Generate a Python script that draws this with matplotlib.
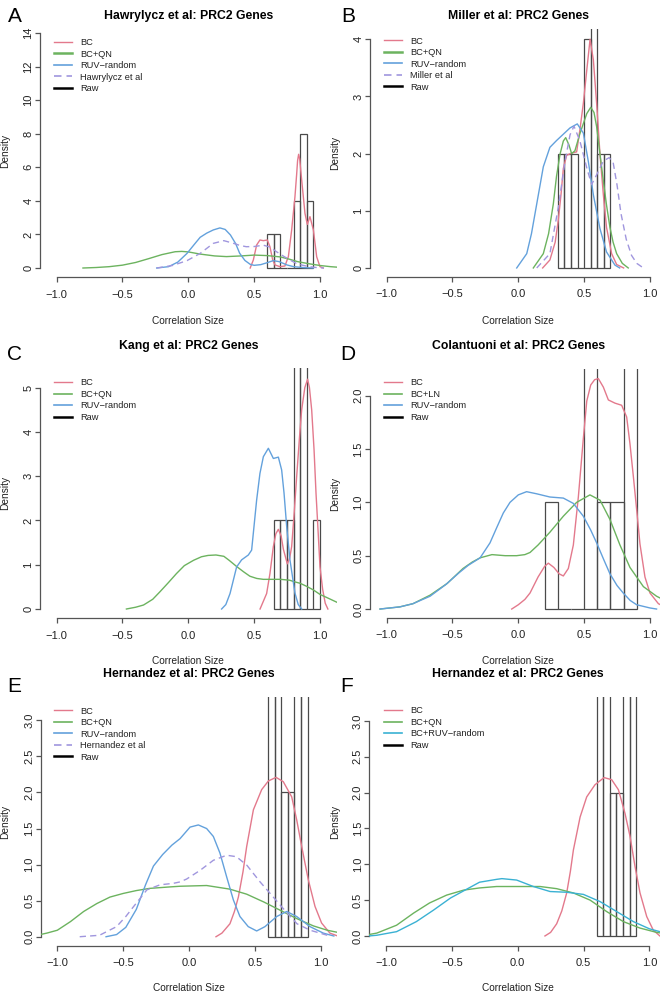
import matplotlib
matplotlib.use("Agg")
import matplotlib.pyplot as plt
from matplotlib.lines import Line2D

plt.rcParams['font.family'] = ['Liberation Sans', 'DejaVu Sans']

# ---------------- data ----------------
XTICKS = [-1.0, -0.5, 0.0, 0.5, 1.0]
XTICK_LABELS = ["\u22121.0", "\u22120.5", "0.0", "0.5", "1.0"]

# Panel A  (Hawrylycz)
A_title = "Hawrylycz et al: PRC2 Genes"
A_labels = ["BC", "BC+QN", "RUV\u2212random", "Hawrylycz et al", "Raw"]
A_yticks = [0, 2, 4, 6, 8, 10, 12, 14]
A_raw_edges = [0.60, 0.65, 0.70, 0.75, 0.80, 0.85, 0.90, 0.95]
A_raw_dens = [2, 2, 0, 0, 4, 8, 4]
A_bc_x = [0.47, 0.494, 0.519, 0.544, 0.57, 0.60, 0.62, 0.641, 0.659, 0.696, 0.734, 0.76, 0.785, 0.81,
          0.823, 0.83, 0.838, 0.846, 0.861, 0.886, 0.904, 0.924, 0.95, 0.975, 1.0, 1.025]
A_bc_y = [0.0, 0.48, 1.37, 1.67, 1.63, 1.67, 1.27, 0.48, 0.18, 0.08, 0.12, 0.68, 2.27, 4.25,
          5.6, 6.4, 6.78, 6.5, 5.25, 3.26, 2.6, 3.06, 2.27, 0.67, 0.08, 0.0]
A_qn_x = [-0.80, -0.70, -0.60, -0.50, -0.40, -0.30, -0.20, -0.10, -0.05, 0.00, 0.09, 0.20, 0.29, 0.40,
          0.50, 0.60, 0.70, 0.77, 0.83, 0.92, 1.00, 1.08, 1.13]
A_qn_y = [0.0, 0.03, 0.08, 0.17, 0.33, 0.56, 0.80, 0.97, 0.99, 0.96, 0.83, 0.72, 0.68, 0.72,
          0.77, 0.74, 0.66, 0.52, 0.38, 0.25, 0.15, 0.08, 0.05]
A_ruv_x = [-0.24, -0.15, -0.08, -0.01, 0.05, 0.09, 0.14, 0.19, 0.24, 0.28, 0.32, 0.36, 0.39, 0.43,
           0.47, 0.50, 0.55, 0.60, 0.645, 0.69, 0.72, 0.75, 0.80, 0.88, 0.95]
A_ruv_y = [0.0, 0.08, 0.35, 0.87, 1.45, 1.83, 2.08, 2.27, 2.39, 2.30, 1.97, 1.45, 0.88, 0.45,
           0.22, 0.16, 0.20, 0.32, 0.44, 0.38, 0.28, 0.18, 0.08, 0.02, 0.0]
A_pub_x = [-0.24, -0.12, -0.01, 0.09, 0.19, 0.27, 0.34, 0.39, 0.44, 0.50, 0.57, 0.62, 0.67, 0.72,
           0.75, 0.79, 0.82, 0.87, 0.92, 0.97, 1.03]
A_pub_y = [0.0, 0.15, 0.44, 0.87, 1.47, 1.63, 1.48, 1.35, 1.27, 1.28, 1.36, 1.25, 0.97, 0.72,
           0.58, 0.40, 0.28, 0.16, 0.08, 0.03, 0.0]

# Panel B  (Miller)
B_title = "Miller et al: PRC2 Genes"
B_labels = ["BC", "BC+QN", "RUV\u2212random", "Miller et al", "Raw"]
B_yticks = [0, 1, 2, 3, 4]
B_raw_edges = [0.30, 0.35, 0.40, 0.45, 0.50, 0.55, 0.60, 0.65, 0.70]
B_raw_dens = [2, 2, 2, 0, 4, 6, 2, 2]
B_bc_x = [0.185, 0.24, 0.28, 0.304, 0.325, 0.342, 0.367, 0.405, 0.443, 0.468, 0.494, 0.52, 0.545,
          0.57, 0.595, 0.62, 0.646, 0.67, 0.709, 0.747, 0.80]
B_bc_y = [0.0, 0.14, 0.45, 0.84, 1.30, 1.74, 1.97, 2.01, 2.03, 2.42, 2.88, 3.46, 4.0,
          3.64, 2.88, 2.0, 1.28, 0.71, 0.25, 0.06, 0.0]
B_qn_x = [0.114, 0.19, 0.23, 0.266, 0.29, 0.317, 0.342, 0.36, 0.385, 0.405, 0.43, 0.468, 0.52, 0.55,
          0.575, 0.595, 0.62, 0.646, 0.67, 0.696, 0.72, 0.747, 0.79, 0.835]
B_qn_y = [0.0, 0.25, 0.60, 1.12, 1.60, 1.99, 2.22, 2.28, 2.15, 2.0, 2.05, 2.35, 2.70, 2.81,
          2.72, 2.47, 2.0, 1.52, 1.10, 0.71, 0.45, 0.25, 0.08, 0.0]
B_ruv_x = [-0.012, 0.064, 0.10, 0.14, 0.19, 0.24, 0.291, 0.342, 0.393, 0.448, 0.494, 0.532, 0.57,
           0.62, 0.67, 0.734, 0.77]
B_ruv_y = [0.0, 0.25, 0.60, 1.12, 1.77, 2.11, 2.23, 2.34, 2.45, 2.52, 2.36, 1.86, 1.28,
           0.69, 0.28, 0.05, 0.0]
B_pub_x = [0.14, 0.24, 0.304, 0.355, 0.393, 0.423, 0.468, 0.52, 0.557, 0.595, 0.646, 0.69, 0.72,
           0.75, 0.78, 0.82, 0.86, 0.90, 0.95]
B_pub_y = [0.0, 0.25, 1.06, 1.87, 2.33, 2.48, 2.22, 1.75, 1.46, 1.63, 1.87, 1.93, 1.85,
           1.45, 0.95, 0.50, 0.22, 0.08, 0.0]

# Panel C  (Kang)
C_title = "Kang et al: PRC2 Genes"
C_labels = ["BC", "BC+QN", "RUV\u2212random", "Raw"]
C_yticks = [0, 1, 2, 3, 4, 5]
C_raw_edges = [0.65, 0.70, 0.75, 0.80, 0.85, 0.90, 0.95, 1.00]
C_raw_dens = [2, 2, 2, 6, 6, 0, 2]
C_bc_x = [0.545, 0.595, 0.62, 0.646, 0.665, 0.684, 0.705, 0.722, 0.752, 0.77, 0.785, 0.805, 0.823,
          0.845, 0.861, 0.885, 0.906, 0.92, 0.937, 0.955, 0.97, 0.985, 1.0, 1.02, 1.04, 1.06]
C_bc_y = [0.0, 0.35, 0.80, 1.41, 1.70, 1.80, 1.65, 1.35, 1.02, 1.15, 1.41, 2.2, 2.99,
          3.9, 4.5, 5.0, 5.19, 5.0, 4.5, 3.6, 2.61, 1.8, 0.96, 0.45, 0.13, 0.0]
C_qn_x = [-0.47, -0.40, -0.34, -0.27, -0.215, -0.15, -0.09, -0.03, 0.04, 0.10, 0.15, 0.21, 0.27,
          0.31, 0.367, 0.42, 0.468, 0.52, 0.57, 0.62, 0.70, 0.77, 0.80, 0.85, 0.90, 0.95, 1.00,
          1.08, 1.13]
C_qn_y = [0.0, 0.04, 0.09, 0.22, 0.39, 0.60, 0.80, 0.98, 1.10, 1.18, 1.21, 1.22, 1.19,
          1.10, 0.96, 0.84, 0.74, 0.69, 0.67, 0.67, 0.67, 0.65, 0.62, 0.58, 0.51, 0.43, 0.33,
          0.22, 0.15]
C_ruv_x = [0.253, 0.285, 0.317, 0.367, 0.405, 0.456, 0.481, 0.519, 0.544, 0.57, 0.608, 0.646,
           0.684, 0.709, 0.727, 0.747, 0.772, 0.81, 0.835, 0.861]
C_ruv_y = [0.0, 0.10, 0.35, 0.95, 1.11, 1.22, 1.33, 2.46, 3.06, 3.44, 3.63, 3.40,
           3.43, 3.14, 2.62, 1.87, 1.11, 0.36, 0.10, 0.0]

# Panel D  (Colantuoni)
D_title = "Colantuoni et al: PRC2 Genes"
D_labels = ["BC", "BC+LN", "RUV\u2212random", "Raw"]
D_yticks = [0.0, 0.5, 1.0, 1.5, 2.0]
D_raw_edges = [0.2, 0.3, 0.4, 0.5, 0.6, 0.7, 0.8, 0.9]
D_raw_dens = [1, 0, 0, 3, 1, 1, 4]
D_bc_x = [-0.05, 0.0, 0.05, 0.089, 0.15, 0.20, 0.228, 0.27, 0.31, 0.342, 0.38, 0.418, 0.456, 0.494,
          0.52, 0.55, 0.58, 0.608, 0.646, 0.684, 0.734, 0.785, 0.823, 0.848, 0.874, 0.899, 0.924,
          0.962, 1.0, 1.064, 1.13]
D_bc_y = [0.0, 0.04, 0.09, 0.15, 0.30, 0.40, 0.43, 0.39, 0.33, 0.31, 0.38, 0.60, 1.05, 1.60,
          1.95, 2.10, 2.15, 2.16, 2.08, 1.96, 1.93, 1.91, 1.80, 1.55, 1.24, 0.93, 0.61,
          0.30, 0.15, 0.05, 0.01]
D_ln_x = [-1.05, -0.9, -0.8, -0.67, -0.54, -0.42, -0.35, -0.29, -0.2, -0.1, -0.013, 0.05, 0.089,
          0.15, 0.24, 0.342, 0.443, 0.544, 0.621, 0.696, 0.772, 0.848, 0.95, 1.05, 1.13]
D_ln_y = [0.0, 0.02, 0.05, 0.13, 0.24, 0.38, 0.44, 0.48, 0.51, 0.50, 0.50, 0.51, 0.53,
          0.60, 0.72, 0.87, 1.00, 1.07, 1.02, 0.84, 0.60, 0.39, 0.21, 0.12, 0.07]
D_ruv_x = [-1.05, -0.9, -0.8, -0.67, -0.55, -0.45, -0.38, -0.29, -0.215, -0.165, -0.114, -0.063,
           0.0, 0.063, 0.14, 0.24, 0.342, 0.418, 0.494, 0.55, 0.595, 0.65, 0.696, 0.75, 0.797,
           0.85, 0.899, 1.0, 1.05]
D_ruv_y = [0.0, 0.02, 0.05, 0.12, 0.23, 0.34, 0.41, 0.48, 0.62, 0.76, 0.90, 1.00,
           1.07, 1.10, 1.08, 1.05, 1.04, 0.99, 0.87, 0.74, 0.62, 0.46, 0.33, 0.22, 0.15,
           0.08, 0.04, 0.01, 0.0]

# Panel E  (Hernandez)
E_title = "Hernandez et al: PRC2 Genes"
E_labels = ["BC", "BC+QN", "RUV\u2212random", "Hernandez et al", "Raw"]
E_yticks = [0.0, 0.5, 1.0, 1.5, 2.0, 2.5, 3.0]
E_raw_edges = [0.60, 0.65, 0.70, 0.75, 0.80, 0.85, 0.90]
E_raw_dens = [4, 4, 2, 2, 4, 4]
E_bc_x = [0.205, 0.25, 0.311, 0.345, 0.375, 0.41, 0.438, 0.489, 0.552, 0.603, 0.661, 0.716, 0.78,
          0.818, 0.856, 0.906, 0.957, 1.007, 1.07, 1.13]
E_bc_y = [0.0, 0.05, 0.18, 0.35, 0.55, 0.90, 1.25, 1.76, 2.04, 2.16, 2.21, 2.15, 1.94,
          1.62, 1.25, 0.79, 0.42, 0.19, 0.05, 0.01]
E_qn_x = [-1.13, -1.08, -1.0, -0.9, -0.8, -0.7, -0.6, -0.5, -0.4, -0.3, -0.15, -0.068, 0.134,
          0.31, 0.438, 0.57, 0.70, 0.82, 0.945, 1.05, 1.13]
E_qn_y = [0.03, 0.05, 0.09, 0.21, 0.35, 0.46, 0.55, 0.60, 0.64, 0.67, 0.69, 0.70, 0.71,
          0.66, 0.59, 0.48, 0.36, 0.25, 0.15, 0.09, 0.06]
E_ruv_x = [-0.63, -0.55, -0.48, -0.40, -0.33, -0.27, -0.20, -0.13, -0.068, 0.008, 0.071, 0.134,
           0.185, 0.235, 0.286, 0.337, 0.387, 0.45, 0.514, 0.577, 0.666, 0.742, 0.818, 0.919,
           1.02, 1.10]
E_ruv_y = [0.0, 0.03, 0.13, 0.38, 0.72, 0.98, 1.14, 1.27, 1.36, 1.52, 1.55, 1.50,
           1.39, 1.16, 0.83, 0.51, 0.28, 0.14, 0.08, 0.14, 0.28, 0.35, 0.28, 0.14,
           0.05, 0.01]
E_pub_x = [-0.83, -0.68, -0.55, -0.48, -0.42, -0.32, -0.22, -0.12, -0.068, -0.018, 0.084, 0.185,
           0.286, 0.36, 0.44, 0.54, 0.64, 0.716, 0.82, 0.92, 0.995, 1.05]
E_pub_y = [0.0, 0.02, 0.14, 0.28, 0.42, 0.65, 0.72, 0.74, 0.76, 0.80, 0.92, 1.06,
           1.13, 1.11, 0.99, 0.76, 0.55, 0.39, 0.18, 0.09, 0.05, 0.02]

# Panel F  (Hernandez, BC+RUV)
F_title = "Hernandez et al: PRC2 Genes"
F_labels = ["BC", "BC+QN", "BC+RUV\u2212random", "Raw"]
F_yticks = [0.0, 0.5, 1.0, 1.5, 2.0, 2.5, 3.0]
F_raw_edges = [0.60, 0.65, 0.70, 0.75, 0.80, 0.85, 0.90]
F_raw_dens = [4, 4, 2, 2, 4, 4]
F_bc_x = [0.207, 0.25, 0.296, 0.335, 0.372, 0.40, 0.423, 0.474, 0.524, 0.587, 0.656, 0.714, 0.765,
          0.815, 0.853, 0.891, 0.929, 0.98, 1.03, 1.08]
F_bc_y = [0.0, 0.05, 0.17, 0.35, 0.60, 0.90, 1.20, 1.66, 1.94, 2.11, 2.21, 2.18, 2.04,
          1.71, 1.39, 0.97, 0.60, 0.27, 0.08, 0.0]
F_qn_x = [-1.13, -1.07, -0.92, -0.79, -0.67, -0.54, -0.41, -0.29, -0.16, 0.018, 0.17, 0.296,
          0.423, 0.55, 0.676, 0.803, 0.929, 1.055, 1.13]
F_qn_y = [0.02, 0.04, 0.15, 0.32, 0.46, 0.57, 0.64, 0.67, 0.69, 0.69, 0.69, 0.66,
          0.60, 0.50, 0.34, 0.20, 0.11, 0.05, 0.03]
F_ruv_x = [-1.13, -1.07, -0.92, -0.77, -0.64, -0.51, -0.41, -0.29, -0.16, -0.12, -0.008, 0.119,
           0.246, 0.372, 0.499, 0.625, 0.752, 0.879, 1.0, 1.08, 1.13]
F_ruv_y = [0.0, 0.01, 0.06, 0.20, 0.36, 0.53, 0.63, 0.75, 0.79, 0.80, 0.78, 0.69,
           0.62, 0.61, 0.58, 0.48, 0.34, 0.20, 0.10, 0.06, 0.04]

# ---------------- style ----------------
C_BC = '#E3798C'
C_QN = '#6CB35F'
C_RUV = '#63A1DC'
C_PUB = '#A096DE'
C_CYAN = '#3AB1D3'
C_RAW = '#4A4A4A'
C_AXIS = '#555555'
C_TEXT = '#222222'

W, H, DPI = 660, 992, 100
PXU = 131.67      # pixels per data unit on x
XR = 1.127        # half-range of x limits

fig = plt.figure(figsize=(W / DPI, H / DPI), dpi=DPI)


def fx(px):
    return px / W


def fy(py):
    return 1 - py / H


def panel(letter, title, labels, yticks, yfmt, edges, dens, curves, g, leg_lw):
    x0 = g['x0']
    left = x0 - XR * PXU
    right = x0 + XR * PXU
    ax = fig.add_axes([fx(left), fy(g['bottom']), (right - left) / W, (g['bottom'] - g['top']) / H])
    ax.patch.set_alpha(0)
    ax.set_xlim(-XR, XR)
    ax.set_ylim(*g['ylim'])

    widths = [edges[i + 1] - edges[i] for i in range(len(dens))]
    ax.bar(edges[:-1], dens, width=widths, align='edge', fill=False,
           edgecolor=C_RAW, linewidth=0.9, zorder=2)
    for (cx, cy, col, ls) in curves:
        if ls == 'dash':
            ax.plot(cx, cy, color=col, lw=1.0, dashes=(4.5, 3.0), zorder=3)
        else:
            ax.plot(cx, cy, color=col, lw=1.0, zorder=3, solid_joinstyle='round')

    for s in ['top', 'right']:
        ax.spines[s].set_visible(False)
    for s in ['left', 'bottom']:
        ax.spines[s].set_color(C_AXIS)
        ax.spines[s].set_linewidth(0.9)
    ax.spines['bottom'].set_bounds(-1.0, 1.0)
    ax.spines['left'].set_bounds(yticks[0], yticks[-1])

    ax.set_xticks(XTICKS)
    ax.set_xticklabels(XTICK_LABELS)
    ax.set_yticks(yticks)
    ax.set_yticklabels([yfmt.format(v) for v in yticks], rotation=90, va='center')
    ax.tick_params(axis='both', direction='out', length=3.6, width=0.9, colors=C_AXIS,
                   labelcolor=C_TEXT, labelsize=8)
    ax.tick_params(axis='x', pad=5.2)
    ax.tick_params(axis='y', pad=1.0)

    # title, axis labels, panel letter
    fig.text(fx(x0), fy(g['title_y']), title, ha='center', va='baseline',
             fontsize=8.8, fontweight='bold', color='black')
    fig.text(fx(x0), fy(g['xlab_y']), "Correlation Size", ha='center', va='baseline',
             fontsize=7.3, color=C_TEXT)
    fig.text(fx(g['dens_x']), fy((g['top'] + g['bottom']) / 2), "Density", rotation=90,
             ha='center', va='center', fontsize=7.3, color=C_TEXT)
    fig.text(fx(g['letter'][0]), fy(g['letter'][1]), letter, ha='center', va='baseline',
             fontsize=15, color='black')

    # legend
    handles = []
    for (cx, cy, col, ls), lw in zip(curves, leg_lw):
        if ls == 'dash':
            handles.append(Line2D([], [], color=col, lw=lw, dashes=(4.5, 3.0)))
        else:
            handles.append(Line2D([], [], color=col, lw=lw))
    handles.append(Line2D([], [], color='black', lw=1.8))
    ax.legend(handles, labels, loc='upper left',
              bbox_to_anchor=(fx(g['leg_x']), fy(g['leg_top'] + 2.5)), bbox_transform=fig.transFigure,
              frameon=False, fontsize=6.7, handlelength=1.96, handletextpad=0.87,
              labelspacing=0.27, borderpad=0, borderaxespad=0, labelcolor=C_TEXT)
    return ax


G = {
    'A': dict(x0=188.3, top=23.8, bottom=277.4, ylim=(-0.56, 14.56), title_y=19.3, xlab_y=323.6,
              dens_x=5, letter=(15, 21.7), leg_x=54, leg_top=35.5),
    'B': dict(x0=518.3, top=29.0, bottom=277.1, ylim=(-0.16, 4.18), title_y=19.3, xlab_y=323.6,
              dens_x=335, letter=(348, 21.7), leg_x=384, leg_top=34.0),
    'C': dict(x0=188.3, top=367.7, bottom=618.3, ylim=(-0.21, 5.45), title_y=349.3, xlab_y=663.6,
              dens_x=5, letter=(15, 360), leg_x=54, leg_top=375.8),
    'D': dict(x0=518.3, top=369.0, bottom=618.2, ylim=(-0.086, 2.25), title_y=349.3, xlab_y=663.6,
              dens_x=335, letter=(348, 360), leg_x=384, leg_top=375.8),
    'E': dict(x0=189.0, top=697.3, bottom=946.1, ylim=(-0.13, 3.32), title_y=677.3, xlab_y=991.0,
              dens_x=5, letter=(14, 691.7), leg_x=54, leg_top=704.0),
    'F': dict(x0=517.7, top=697.3, bottom=946.0, ylim=(-0.14, 3.33), title_y=677.3, xlab_y=991.0,
              dens_x=335, letter=(347, 691.7), leg_x=384, leg_top=703.8),
}

panel('A', A_title, A_labels, A_yticks, "{:d}", A_raw_edges, A_raw_dens,
      [(A_bc_x, A_bc_y, C_BC, '-'), (A_qn_x, A_qn_y, C_QN, '-'),
       (A_ruv_x, A_ruv_y, C_RUV, '-'), (A_pub_x, A_pub_y, C_PUB, 'dash')],
      G['A'], [1.0, 1.8, 1.2, 1.2])
panel('B', B_title, B_labels, B_yticks, "{:d}", B_raw_edges, B_raw_dens,
      [(B_bc_x, B_bc_y, C_BC, '-'), (B_qn_x, B_qn_y, C_QN, '-'),
       (B_ruv_x, B_ruv_y, C_RUV, '-'), (B_pub_x, B_pub_y, C_PUB, 'dash')],
      G['B'], [1.0, 1.8, 1.2, 1.2])
panel('C', C_title, C_labels, C_yticks, "{:d}", C_raw_edges, C_raw_dens,
      [(C_bc_x, C_bc_y, C_BC, '-'), (C_qn_x, C_qn_y, C_QN, '-'),
       (C_ruv_x, C_ruv_y, C_RUV, '-')],
      G['C'], [1.0, 1.2, 1.2])
panel('D', D_title, D_labels, D_yticks, "{:.1f}", D_raw_edges, D_raw_dens,
      [(D_bc_x, D_bc_y, C_BC, '-'), (D_ln_x, D_ln_y, C_QN, '-'),
       (D_ruv_x, D_ruv_y, C_RUV, '-')],
      G['D'], [1.0, 1.2, 1.2])
panel('E', E_title, E_labels, E_yticks, "{:.1f}", E_raw_edges, E_raw_dens,
      [(E_bc_x, E_bc_y, C_BC, '-'), (E_qn_x, E_qn_y, C_QN, '-'),
       (E_ruv_x, E_ruv_y, C_RUV, '-'), (E_pub_x, E_pub_y, C_PUB, 'dash')],
      G['E'], [1.0, 1.2, 1.2, 1.2])
panel('F', F_title, F_labels, F_yticks, "{:.1f}", F_raw_edges, F_raw_dens,
      [(F_bc_x, F_bc_y, C_BC, '-'), (F_qn_x, F_qn_y, C_QN, '-'),
       (F_ruv_x, F_ruv_y, C_CYAN, '-')],
      G['F'], [1.0, 1.2, 1.2])

fig.savefig("out.png", dpi=DPI)
